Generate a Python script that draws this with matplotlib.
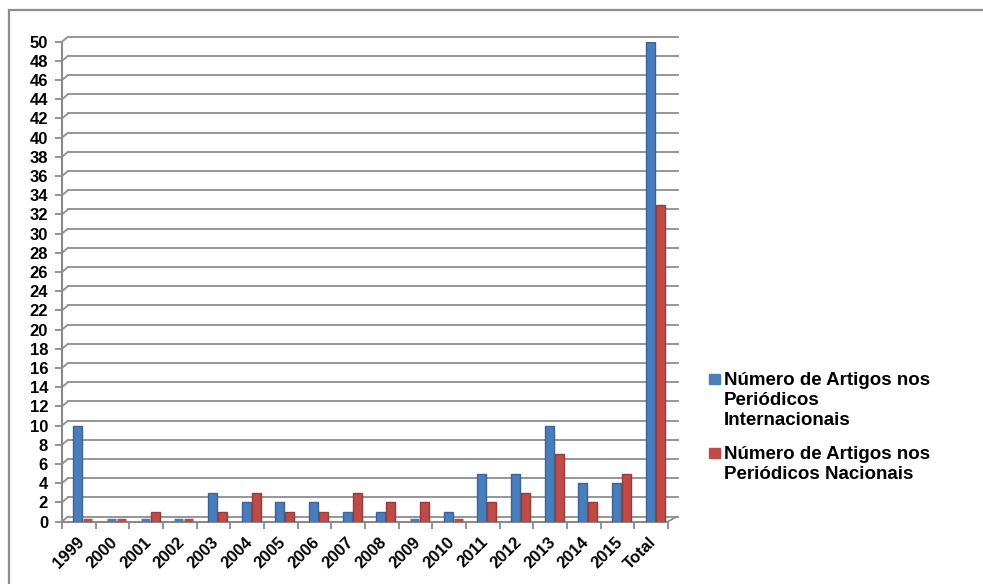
import numpy as np
import matplotlib
matplotlib.use("Agg")
import matplotlib.pyplot as plt
import matplotlib.transforms as mtransforms
from matplotlib.patches import Rectangle

plt.rcParams['font.family'] = ['Liberation Sans', 'DejaVu Sans']
plt.rcParams['font.weight'] = 'bold'

anos = ['1999', '2000', '2001', '2002', '2003', '2004', '2005', '2006', '2007',
        '2008', '2009', '2010', '2011', '2012', '2013', '2014', '2015', 'Total']
internacionais = [10, 0, 0, 0, 3, 2, 2, 2, 1, 1, 0, 1, 5, 5, 10, 4, 4, 50]
nacionais = [0, 0, 1, 0, 1, 3, 1, 1, 3, 2, 2, 0, 2, 3, 7, 2, 5, 33]
legenda = ["Número de Artigos nos\nPeriódicos\nInternacionais",
           "Número de Artigos nos\nPeriódicos Nacionais"]
cores = ['#4a7ebb', '#be4b48']
bordas = ['#3a6399', '#983b39']

W, H = 983, 584
fig = plt.figure(figsize=(W / 100, H / 100), dpi=100)

def px(x0, y0, x1, y1):  # pixel box (top-left origin) -> figure rect
    return [x0 / W, 1 - y1 / H, (x1 - x0) / W, (y1 - y0) / H]

# chart frame
fig.patches.append(Rectangle((9 / W, -0.1), 1.2, 1 - 10 / H + 0.1,
                             transform=fig.transFigure, fill=False,
                             edgecolor='#8c8c8c', lw=1.6))

ax = fig.add_axes(px(62, 41.7, 668, 521.5))
n = len(anos)
x = np.arange(n)
ax.set_xlim(-0.5, n - 0.5)
ax.set_ylim(0, 50)

# back wall gridlines, pushed up/right to fake the 3-D depth
grid_c = '#8e8e8e'
off = mtransforms.ScaledTranslation(6 / 100, 5 / 100, fig.dpi_scale_trans)
seg = dict(arrowstyle='-', color=grid_c, lw=1.3, shrinkA=0, shrinkB=0)
for v in range(0, 51, 2):
    ax.plot([-0.5, n - 0.5 + 0.12], [v, v], color=grid_c, lw=1.3,
            transform=ax.transData + off, clip_on=False, zorder=0.5)
    ax.annotate('', xy=(-0.5, v), xycoords='data', xytext=(4.3, 3.6),
                textcoords='offset points', annotation_clip=False,
                arrowprops=seg)
ax.annotate('', xy=(n - 0.5, 0), xycoords='data', xytext=(6.5, 3.6),
            textcoords='offset points', annotation_clip=False, arrowprops=seg)

w = 0.27
pos = [x - 0.03, x + 0.27]
for p, vals, c, e in zip(pos, [internacionais, nacionais], cores, bordas):
    ax.bar(p, vals, w, color=c, edgecolor=e, lw=1.0, zorder=3)
    zero = np.array(vals) == 0
    ax.hlines(np.zeros(zero.sum()) + 0.15, p[zero] - w / 2, p[zero] + w / 2,
              colors=c, lw=2.5, zorder=3)

for s in ['top', 'right']:
    ax.spines[s].set_visible(False)
for s in ['left', 'bottom']:
    ax.spines[s].set_color('#8a8a8a')
    ax.spines[s].set_linewidth(1.5)

ax.set_yticks(range(0, 51, 2))
ax.tick_params(axis='y', length=5, width=1.3, color='#8a8a8a', pad=5,
               labelsize=12)
ax.set_xticks(x + 0.08)
ax.set_xticklabels(anos, rotation=45, ha='right', va='center',
                   rotation_mode='anchor', fontsize=12)
ax.tick_params(axis='x', which='major', length=0, pad=13)
ax.set_xticks(np.arange(n + 1) - 0.5, minor=True)
ax.tick_params(axis='x', which='minor', length=5, width=1.3, color='#8a8a8a')
for lab in ax.get_xticklabels() + ax.get_yticklabels():
    lab.set_fontweight('bold')

# legend, marker beside the first line of each entry
topos = [374, 448]
for cor, txt, t in zip(cores, legenda, topos):
    fig.patches.append(Rectangle((709 / W, 1 - (t + 10) / H), 11 / W, 10 / H,
                                 transform=fig.transFigure, color=cor))
    for k, linha in enumerate(txt.split('\n')):
        fig.text(724 / W, 1 - (t + 11 + 20 * k) / H, linha, fontsize=13.5,
                 fontweight='bold', va='baseline', ha='left')

fig.savefig('out.png', dpi=100)
